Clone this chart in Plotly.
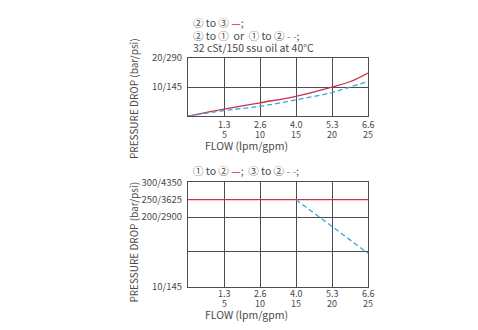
import plotly.graph_objects as go

# Flow axis (lpm) and its gpm equivalents for the two-row tick labels
flow_ticks_lpm = [5, 10, 15, 20, 25]
flow_labels_gpm = ["1.3", "2.6", "4.0", "5.3", "6.6"]
flow_labels_lpm = ["5", "10", "15", "20", "25"]

# Upper chart: pressure drop (bar) vs flow (lpm)
flow_top = [0, 5, 10, 15, 20, 22.5, 25]
drop_2_to_3 = [0, 2.4, 4.6, 6.8, 10.0, 11.8, 14.8]
drop_2_to_1 = [0, 1.9, 3.4, 5.6, 8.1, 10.0, 11.9]

# Lower chart: relief pressure (bar) vs flow (lpm)
flow_1_to_2 = [0, 25]
press_1_to_2 = [250, 250]
flow_3_to_2 = [15, 25]
press_3_to_2 = [250, 96]

top_y_ticks = [10, 20]
top_y_labels = ["10/145", "20/290"]
bot_y_ticks = [0, 100, 200, 250, 300]
bot_y_labels = ["10/145", "", "200/2900", "250/3625", "300/4350"]

RED = "#c8334b"
BLUE = "#3aa6d6"
GRID = "#4d4d4d"
TEXT = "#4a4a4a"
FONT = "Noto Sans CJK SC"

W, H = 478, 330


def py(px):
    """Convert a pixel row (from top) into paper coordinates."""
    return 1 - px / H


x_dom = [188 / W, 368 / W]

fig = go.Figure()
fig.add_trace(go.Scatter(x=flow_top, y=drop_2_to_3, mode="lines", line=dict(color=RED, width=1.3, shape="spline"),
                         xaxis="x", yaxis="y", showlegend=False))
fig.add_trace(go.Scatter(x=flow_top, y=drop_2_to_1, mode="lines",
                         line=dict(color=BLUE, width=1.3, dash="5px,3px", shape="spline"),
                         xaxis="x", yaxis="y", showlegend=False))
fig.add_trace(go.Scatter(x=flow_1_to_2, y=press_1_to_2, mode="lines", line=dict(color=RED, width=1.3),
                         xaxis="x2", yaxis="y2", showlegend=False))
fig.add_trace(go.Scatter(x=flow_3_to_2, y=press_3_to_2, mode="lines", line=dict(color=BLUE, width=1.3, dash="5px,3px"),
                         xaxis="x2", yaxis="y2", showlegend=False))

axis_common = dict(showgrid=True, gridcolor=GRID, gridwidth=1, showline=True, linecolor=GRID, linewidth=1,
                   mirror=True, zeroline=False, fixedrange=True)
x_common = dict(domain=x_dom, range=[0, 25], tickvals=flow_ticks_lpm, showticklabels=False, ticks="",
                **axis_common)
# Invisible outside ticks give the pressure labels a small gap from the frame
y_common = dict(tickfont=dict(size=9.5, color=TEXT), ticks="outside", ticklen=3,
                tickcolor="rgba(0,0,0,0)", **axis_common)

fig.update_layout(
    width=W, height=H, margin=dict(l=0, r=0, t=0, b=0),
    paper_bgcolor="white", plot_bgcolor="white",
    font=dict(family=FONT, color=TEXT, size=10),
    xaxis=dict(anchor="y", **x_common),
    yaxis=dict(domain=[py(113), py(52)], range=[0, 20], tickvals=top_y_ticks, ticktext=top_y_labels,
               anchor="x", **y_common),
    xaxis2=dict(anchor="y2", **x_common),
    yaxis2=dict(domain=[py(291), py(182)], range=[0, 300], tickvals=bot_y_ticks, ticktext=bot_y_labels,
                anchor="x2", **y_common),
)

ann = []


def text(x, y, s, size=10.5, xanchor="left", xref="paper", **kw):
    ann.append(dict(x=x, y=y, xref=xref, yref="paper", text=s, showarrow=False,
                    xanchor=xanchor, yanchor="middle", font=dict(size=size, color=TEXT, family=FONT), **kw))


# Header lines
text(191 / W, py(15.5), f"② to ③ <span style='color:{RED}'>—</span>;")
text(191 / W, py(28.5), f"② to ① &nbsp;or &nbsp;① to ② <span style='color:{BLUE}'>- -</span>;")
text(191 / W, py(41.5), "32 cSt/150 ssu oil at 40°C")
text(191 / W, py(170), f"① to ② <span style='color:{RED}'>—</span>; &nbsp;③ to ② <span style='color:{BLUE}'>- -</span>;")

# Two-row flow tick labels (gpm over lpm) and axis titles
for row1, row2, title_y in [(121.5, 132, 143.5), (298.5, 309, 320.5)]:
    for v, g, l in zip(flow_ticks_lpm, flow_labels_gpm, flow_labels_lpm):
        text(v, py(row1), g, size=9, xanchor="center", xref="x")
        text(v, py(row2), l, size=9, xanchor="center", xref="x")
    text(203 / W, py(title_y), "FLOW (lpm/gpm)", size=10.5)

# Pressure axis titles
for cy in (95, 245):
    text(134 / W, py(cy), "PRESSURE DROP (bar/psi)", size=10, xanchor="center", textangle=-90)

fig.update_layout(annotations=ann)
fig.write_html("out.html")
